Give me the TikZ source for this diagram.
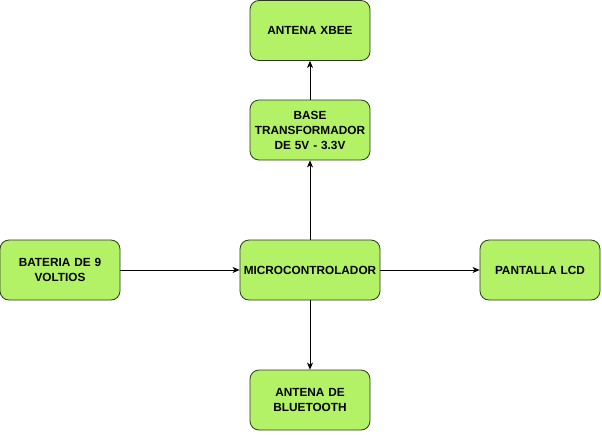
\documentclass[tikz,border=0pt]{standalone}
\usepackage{fontspec}
\setmainfont{Liberation Sans}
\usetikzlibrary{arrows.meta}
\definecolor{boxfill}{HTML}{B3F266}
\definecolor{boxline}{HTML}{2A3A1A}
\begin{document}
\begin{tikzpicture}[x=1pt,y=-1pt,
  blk/.style={draw=boxline, fill=boxfill, rounded corners=9pt, line width=0.8pt,
    minimum width=120pt, minimum height=60pt, inner sep=0pt, align=center,
    font=\fontsize{11.8}{15}\selectfont\bfseries, text width=118pt},
  conn/.style={draw=black, line width=0.8pt, -{Stealth[length=7pt,width=6pt,inset=2pt]}}]
\useasboundingbox (0,0) rectangle (602,434);
\node[blk] (xbee) at (310,30.5) {ANTENA XBEE};
\node[blk] (base) at (310,130) {BASE\\TRANSFORMADOR\\DE 5V - 3.3V};
\node[blk, minimum width=140pt, text width=140pt] (micro) at (310,270) {MICROCONTROLADOR};
\node[blk] (bat) at (60,270) {BATERIA DE 9\\VOLTIOS};
\node[blk] (lcd) at (540,270) {PANTALLA LCD};
\node[blk] (bt) at (310,400) {ANTENA DE\\BLUETOOTH};
\draw[conn] (bat) -- (micro);
\draw[conn] (micro) -- (lcd);
\draw[conn] (micro) -- (base);
\draw[conn] (base) -- (xbee);
\draw[conn] (micro) -- (bt);
\end{tikzpicture}
\end{document}
